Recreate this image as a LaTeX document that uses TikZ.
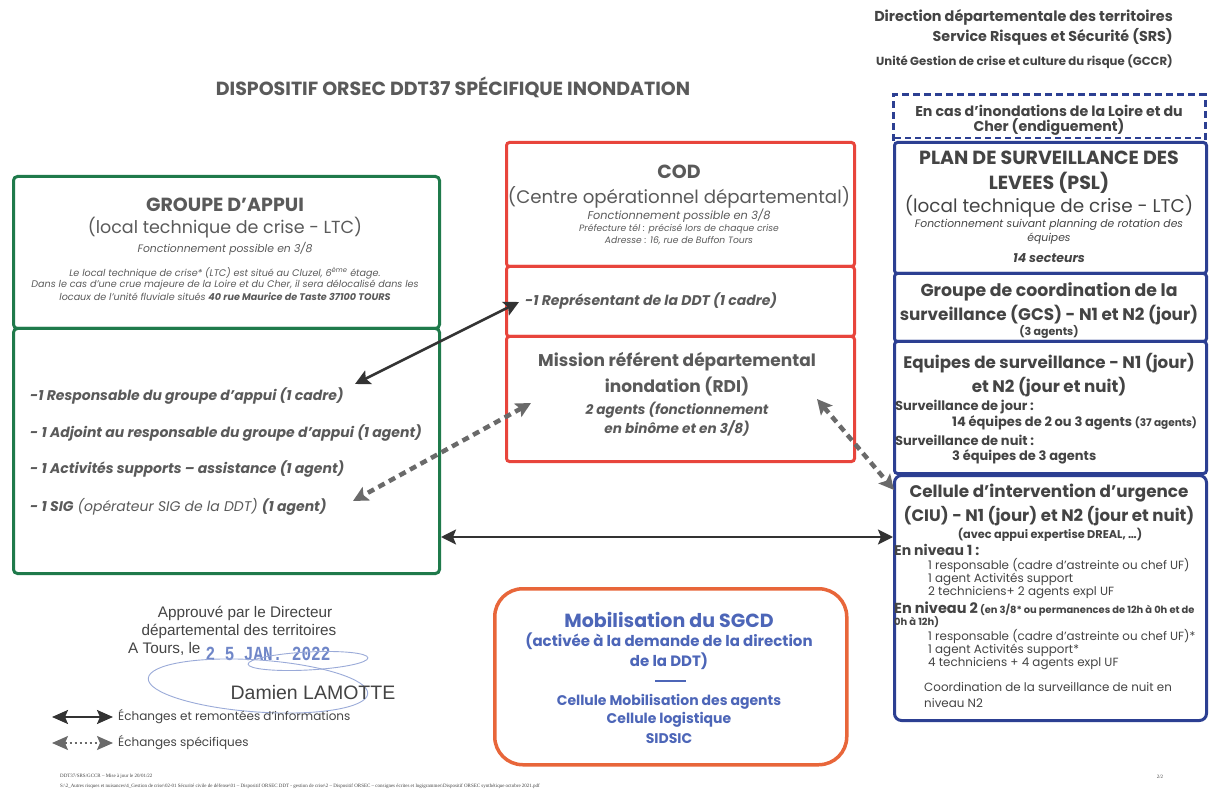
\documentclass[tikz,border=0pt]{standalone}
\usepackage{fontspec}
\setmainfont{Poppins}
\newfontfamily\arialf{Liberation Sans}
\newfontfamily\monof{Liberation Mono}
\newfontfamily\timesf{Liberation Serif}
\usetikzlibrary{arrows.meta}
\definecolor{ggreen}{HTML}{1F7A4B}
\definecolor{rred}{HTML}{E8453C}
\definecolor{bblue}{HTML}{2C3F92}
\definecolor{oorange}{HTML}{E8663A}
\definecolor{tgray}{HTML}{5A5A5A}
\definecolor{dgray}{HTML}{444444}
\definecolor{sblue}{HTML}{4D66B8}
\definecolor{stamp}{HTML}{6F86C8}
\definecolor{adark}{HTML}{333333}
\definecolor{agray}{HTML}{6A6A6A}
\newcommand\fsz[1]{\fontsize{#1pt}{#1pt}\selectfont}
\tikzset{
  gbox/.style={draw=ggreen, line width=3pt, rounded corners=4pt, anchor=north west, inner sep=0pt},
  rbox/.style={draw=rred, line width=3pt, rounded corners=3pt, anchor=north west, inner sep=0pt},
  bbox/.style={draw=bblue, line width=3pt, rounded corners=3pt, anchor=north west, inner sep=0pt},
  obox/.style={draw=oorange, line width=3.5pt, rounded corners=28pt, anchor=north west, inner sep=0pt},
  txt/.style={text=tgray, inner sep=0pt},
  ltxt/.style={text=tgray, inner sep=0pt, anchor=west},
  rtxt/.style={text=dgray, inner sep=0pt},
  rltxt/.style={text=dgray, inner sep=0pt, anchor=west},
  btxt/.style={text=sblue, inner sep=0pt, font=\bfseries},
  solidarr/.style={draw=adark, line width=2.5pt, {Stealth[length=15pt,width=15pt,inset=3pt]}-{Stealth[length=15pt,width=15pt,inset=3pt]}},
  dasharr/.style={draw=agray, line width=4.5pt, dash pattern=on 7pt off 5pt, {Stealth[length=15pt,width=15pt,inset=3pt]}-{Stealth[length=15pt,width=15pt,inset=3pt]}},
  legsolid/.style={draw=adark, line width=2pt, {Stealth[length=16pt,width=14pt,inset=3pt]}-{Stealth[length=16pt,width=14pt,inset=3pt]}},
  legdash/.style={draw=agray, line width=1.5pt, dash pattern=on 2pt off 3pt, {Stealth[length=16pt,width=14pt,inset=3pt]}-{Stealth[length=16pt,width=14pt,inset=3pt]}},
}
\begin{document}
\begin{tikzpicture}[x=1pt,y=-1pt]
\useasboundingbox (0,0) rectangle (1210,791);
\fill[white] (0,0) rectangle (1210,791);

% Header
\node[txt, font=\bfseries\fsz{19}] (title) at (453,87) {DISPOSITIF ORSEC DDT37 SPÉCIFIQUE INONDATION};
\node[rtxt, font=\bfseries\fsz{14.4}, anchor=east] (dir) at (1173,17) {Direction départementale des territoires};
\node[rtxt, font=\bfseries\fsz{14.3}, anchor=east] (srs) at (1173,37) {Service Risques et Sécurité (SRS)};
\node[rtxt, font=\bfseries\fsz{11.7}, anchor=east] (gccr) at (1173,62) {Unité Gestion de crise et culture du risque (GCCR)};

% Green boxes
\node[gbox, minimum width=426pt, minimum height=152pt] (gtop) at (12,175) {};
\node[gbox, minimum width=426pt, minimum height=245pt] (gbot) at (12,327) {};
\node[txt, font=\bfseries\fsz{19}] (gt1) at (225,205) {GROUPE D’APPUI};
\node[txt, font=\fsz{17.5}] (gt2) at (225,228) {(local technique de crise - LTC)};
\node[txt, font=\itshape\fsz{10.8}] (gt3) at (225,249) {Fonctionnement possible en 3/8};
\node[txt, font=\itshape\fsz{9.6}] (gt4) at (225,273) {Le local technique de crise* (LTC) est situé au Cluzel, 6\textsuperscript{ème} étage.};
\node[txt, font=\itshape\fsz{9.6}] (gt5) at (225,285) {Dans le cas d’une crue majeure de la Loire et du Cher, il sera délocalisé dans les};
\node[txt, font=\itshape\fsz{9.6}] (gt6) at (225,297) {locaux de l’unité fluviale situés \textbf{40 rue Maurice de Taste 37100 TOURS}};
\node[ltxt, font=\bfseries\itshape\fsz{14}] (g1) at (30,396) {-1 Responsable du groupe d’appui (1 cadre)};
\node[ltxt, font=\bfseries\itshape\fsz{14}] (g2) at (30,433) {- 1 Adjoint au responsable du groupe d’appui (1 agent)};
\node[ltxt, font=\bfseries\itshape\fsz{14}] (g3) at (30,469) {- 1 Activités supports – assistance (1 agent)};
\node[ltxt, font=\itshape\fsz{14}] (g4) at (30,507) {\textbf{- 1 SIG} (opérateur SIG de la DDT) \textbf{(1 agent)}};

% Red boxes
\node[rbox, minimum width=348pt, minimum height=124pt] (cod) at (505,141) {};
\node[rbox, minimum width=348pt, minimum height=70pt] (codrep) at (505,265) {};
\node[rbox, minimum width=348pt, minimum height=125pt] (rdi) at (505,335) {};
\node[txt, font=\bfseries\fsz{19}] (c1) at (679,172) {COD};
\node[txt, font=\fsz{18.2}] (c2) at (679,197) {(Centre opérationnel départemental)};
\node[txt, font=\itshape\fsz{11.3}] (c3) at (679,216) {Fonctionnement possible en 3/8};
\node[txt, font=\itshape\fsz{9.2}] (c4) at (679,229) {Préfecture tél : précisé lors de chaque crise};
\node[txt, font=\itshape\fsz{9.2}] (c5) at (679,241) {Adresse : 16, rue de Buffon Tours};
\node[ltxt, font=\bfseries\itshape\fsz{14}] (rep) at (525,301) {-1 Représentant de la DDT (1 cadre)};
\node[txt, font=\bfseries\fsz{17}] (r1) at (677,362) {Mission référent départemental};
\node[txt, font=\bfseries\fsz{17}] (r2) at (677,387) {inondation (RDI)};
\node[txt, font=\bfseries\itshape\fsz{13.6}] (r3) at (677,410) {2 agents (fonctionnement};
\node[txt, font=\bfseries\itshape\fsz{13.6}] (r4) at (677,428) {en binôme et en 3/8)};

% Blue column
\draw[draw=bblue, line width=3pt, dash pattern=on 7pt off 4pt] (893,141) -- (893,95) -- (1205,95) -- (1205,141);
\draw[draw=bblue, line width=2pt, dash pattern=on 6pt off 4pt] (895,138) -- (1203,138);
\node[bbox, minimum width=312pt, minimum height=131pt] (psl) at (893,141) {};
\node[bbox, minimum width=312pt, minimum height=68pt] (gcs) at (893,272) {};
\node[bbox, minimum width=312pt, minimum height=132pt] (equ) at (893,340) {};
\node[bbox, minimum width=312pt, minimum height=245pt, rounded corners=7pt] (ciu) at (893,474) {};
\node[rtxt, font=\bfseries\fsz{14.2}] (d1) at (1049,111) {En cas d’inondations de la Loire et du};
\node[rtxt, font=\bfseries\fsz{14.2}] (d2) at (1049,127) {Cher (endiguement)};
\node[rtxt, font=\bfseries\fsz{19}] (p1) at (1049,158) {PLAN DE SURVEILLANCE DES};
\node[rtxt, font=\bfseries\fsz{19}] (p2) at (1049,183) {LEVEES (PSL)};
\node[rtxt, font=\fsz{18.4}] (p3) at (1049,206) {(local technique de crise - LTC)};
\node[rtxt, font=\itshape\fsz{10.8}] (p4) at (1049,225) {Fonctionnement suivant planning de rotation des};
\node[rtxt, font=\itshape\fsz{10.8}] (p5) at (1049,239) {équipes};
\node[rtxt, font=\bfseries\itshape\fsz{12.5}] (p6) at (1049,258) {14 secteurs};
\node[rtxt, font=\bfseries\fsz{17.3}] (s1) at (1049,292) {Groupe de coordination de la};
\node[rtxt, font=\bfseries\fsz{16.8}] (s2) at (1049,315) {surveillance (GCS) - N1 et N2 (jour)};
\node[rtxt, font=\bfseries\fsz{11}] (s3) at (1049,332) {(3 agents)};
\node[rtxt, font=\bfseries\fsz{16.7}] (e1) at (1049,363) {Equipes de surveillance - N1 (jour)};
\node[rtxt, font=\bfseries\fsz{16.7}] (e2) at (1049,387) {et N2 (jour et nuit)};
\node[rltxt, font=\bfseries\fsz{13}] (e3) at (895,407) {Surveillance de jour :};
\node[rltxt, font=\bfseries\fsz{13}] (e4) at (952,423) {14 équipes de 2 ou 3 agents {\fsz{10.5}(37 agents)}};
\node[rltxt, font=\bfseries\fsz{13}] (e5) at (895,440) {Surveillance de nuit :};
\node[rltxt, font=\bfseries\fsz{13}] (e6) at (952,457) {3 équipes de 3 agents};
\node[rtxt, font=\bfseries\fsz{16.8}] (u1) at (1049,493) {Cellule d’intervention d’urgence};
\node[rtxt, font=\bfseries\fsz{16.6}] (u2) at (1049,516) {(CIU) - N1 (jour) et N2 (jour et nuit)};
\node[rtxt, font=\bfseries\fsz{11.3}] (u3) at (1050,535) {(avec appui expertise DREAL, …)};
\node[rltxt, font=\bfseries\fsz{14}] (u4) at (894,550) {En niveau 1 :};
\node[rltxt, font=\fsz{11.9}] (u5) at (928,565) {1 responsable (cadre d’astreinte ou chef UF)};
\node[rltxt, font=\fsz{11.9}] (u6) at (928,579) {1 agent Activités support};
\node[rltxt, font=\fsz{11.9}] (u7) at (928,593) {2 techniciens+ 2 agents expl UF};
\node[rltxt, font=\bfseries\fsz{9.9}] (u8) at (894,609) {{\fsz{14.5}En niveau 2} (en 3/8* ou permanences de 12h à 0h et de};
\node[rltxt, font=\bfseries\fsz{9.9}] (u9) at (894,622) {0h à 12h)};
\node[rltxt, font=\fsz{11.9}] (u10) at (928,636) {1 responsable (cadre d’astreinte ou chef UF)*};
\node[rltxt, font=\fsz{11.9}] (u11) at (928,650) {1 agent Activités support*};
\node[rltxt, font=\fsz{11.9}] (u12) at (928,664) {4 techniciens + 4 agents expl UF};
\node[rltxt, font=\fsz{11.9}] (u13) at (924,687) {Coordination de la surveillance de nuit en};
\node[rltxt, font=\fsz{11.9}] (u14) at (924,703) {niveau N2};

% Orange box
\node[obox, minimum width=352pt, minimum height=176pt] (sgcd) at (493,587) {};
\node[btxt, font=\bfseries\fsz{19}] (o1) at (669,620) {Mobilisation du SGCD};
\node[btxt, font=\bfseries\fsz{15}] (o2) at (669,641) {(activée à la demande de la direction};
\node[btxt, font=\bfseries\fsz{15}] (o3) at (669,661) {de la DDT)};
\coordinate (os) at (655,681);
\coordinate (oe) at (686,681);
\draw[sblue, line width=1.5pt] (os) -- (oe);
\node[btxt, font=\bfseries\fsz{14}] (o4) at (669,702) {Cellule Mobilisation des agents};
\node[btxt, font=\bfseries\fsz{14}] (o5) at (669,720) {Cellule logistique};
\node[btxt, font=\bfseries\fsz{14}] (o6) at (669,739) {SIDSIC};

% Connectors
\coordinate (a1s) at (519,302);
\coordinate (a1e) at (355,384);
\draw[solidarr] (a1s) -- (a1e);
\coordinate (a2s) at (531,403);
\coordinate (a2e) at (353,501);
\draw[dasharr] (a2s) -- (a2e);
\coordinate (a3s) at (817,399);
\coordinate (a3e) at (894,490);
\draw[dasharr] (a3s) -- (a3e);
\coordinate (a4s) at (gbot.east |- 0,537);
\coordinate (a4e) at (ciu.west |- 0,537);
\draw[solidarr] (a4s) -- (a4e);

% Signature
\node[txt, font=\arialf\fsz{15.3}, text=dgray] (sg1) at (245,613) {Approuvé par le Directeur};
\node[txt, font=\arialf\fsz{15.3}, text=dgray] (sg2) at (239,631) {départemental des territoires};
\node[ltxt, font=\arialf\fsz{15.3}, text=dgray] (sg3) at (128,649) {A Tours, le};
\node[txt, font=\monof\bfseries\fsz{20}, text=stamp, xscale=0.8] (stampd) at (268,654) {2 5 JAN. 2022};
\draw[stamp!70, line width=0.9pt, rotate around={-4:(258,686)}] (258,686) ellipse (110pt and 26pt);
\draw[stamp!70, line width=0.9pt, rotate around={3:(308,661)}] (308,661) ellipse (60pt and 9pt);
\node[txt, font=\arialf\fsz{19.5}, text=dgray] (sname) at (313,693) {Damien LAMOTTE};

% Legend
\coordinate (l1s) at (52,717);
\coordinate (l1e) at (113,717);
\draw[legsolid] (l1s) -- (l1e);
\node[ltxt, font=\fsz{12}, text=dgray] (leg1) at (118,717) {Échanges et remontées d’informations};
\coordinate (l2s) at (52,743);
\coordinate (l2e) at (113,743);
\draw[legdash] (l2s) -- (l2e);
\node[ltxt, font=\fsz{12}, text=dgray] (leg2) at (118,743) {Échanges spécifiques};

% Footer
\node[ltxt, font=\timesf\fsz{5}, text=dgray] (f1) at (60,776) {DDT37/SRS/GCCR – Mise à jour le 20/01/22};
\node[ltxt, font=\timesf\fsz{5}, text=dgray] (f2) at (60,786) {S:\textbackslash 2\_Autres risques et nuisances\textbackslash 4\_Gestion de crise\textbackslash 02-01 Sécurité civile de défense\textbackslash 01 – Dispositif ORSEC DDT - gestion de crise\textbackslash 2 – Dispositif ORSEC – consignes écrites et logigrammes\textbackslash Dispositif ORSEC synthétique octobre 2021.pdf};
\node[txt, font=\timesf\fsz{5}, text=dgray] (pg) at (1160,777) {2/2};
\end{tikzpicture}
\end{document}
